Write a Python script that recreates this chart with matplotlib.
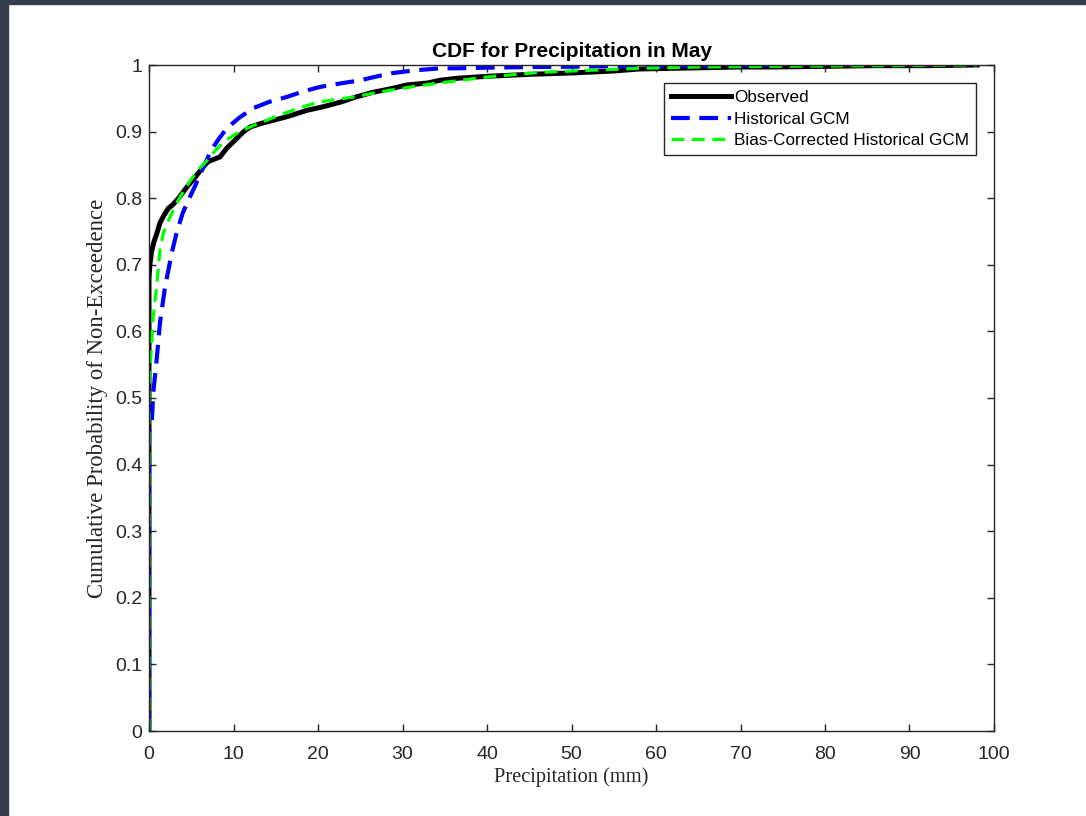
import numpy as np
import matplotlib.pyplot as plt
from matplotlib.patches import Rectangle

# values (precipitation mm, cumulative probability)
obs_x = [0, 0, 0.1, 0.3, 0.6, 1.0, 1.3, 1.8, 2.3, 2.8, 3.5, 4.5, 5.5, 6.4, 7.0,
         7.6, 8.4, 9.2, 10.4, 11.2, 12.0, 13.2, 14.7, 16.5, 18.7, 20.5, 22.6,
         24.5, 26.5, 28.5, 30.5, 33.0, 34.4, 36.4, 40, 45, 50, 55, 58, 62, 66,
         70, 74, 80, 86, 92, 98]
obs_y = [0, 0.68, 0.70, 0.72, 0.735, 0.75, 0.763, 0.775, 0.785, 0.79, 0.80,
         0.817, 0.832, 0.847, 0.855, 0.858, 0.862, 0.875, 0.89, 0.90, 0.907,
         0.912, 0.917, 0.923, 0.932, 0.937, 0.944, 0.952, 0.959, 0.964, 0.97,
         0.973, 0.977, 0.98, 0.983, 0.986, 0.988, 0.991, 0.994, 0.995, 0.996,
         0.997, 0.997, 0.998, 0.999, 0.999, 1.0]

gcm_x = [0, 0, 0.3, 0.5, 0.9, 1.3, 1.9, 2.7, 3.3, 4.0, 4.7, 5.4, 6.2, 7.0, 7.2,
         8.2, 9.2, 10.7, 12.3, 14.3, 16.3, 18.2, 20.2, 22.5, 25.0, 27.0, 28.9,
         31.5, 34.4, 36.4, 40, 46, 55, 65, 75]
gcm_y = [0, 0.45, 0.457, 0.507, 0.557, 0.613, 0.667, 0.718, 0.75, 0.778, 0.798,
         0.817, 0.84, 0.862, 0.869, 0.888, 0.905, 0.921, 0.935, 0.945, 0.952,
         0.96, 0.967, 0.972, 0.977, 0.983, 0.988, 0.992, 0.995, 0.995, 0.996,
         0.997, 0.998, 0.999, 1.0]

bc_x = [0, 0, 0.1, 0.3, 0.5, 0.7, 0.9, 1.3, 1.7, 2.5, 3.3, 4.2, 5.2, 6.0, 6.9,
        7.8, 8.8, 10.2, 11.6, 13.5, 15.5, 17.7, 19.9, 22.0, 24.2, 26.3, 28.5,
        31.5, 34.4, 40, 46.3, 52, 58, 65, 74, 85, 98]
bc_y = [0, 0.50, 0.537, 0.58, 0.622, 0.645, 0.667, 0.722, 0.748, 0.772, 0.793,
        0.813, 0.832, 0.845, 0.857, 0.871, 0.884, 0.896, 0.905, 0.915, 0.925,
        0.935, 0.944, 0.948, 0.952, 0.957, 0.962, 0.968, 0.973, 0.982, 0.989,
        0.992, 0.995, 0.997, 0.998, 0.999, 1.0]

xticks = np.arange(0, 101, 10)
yticks = np.arange(0, 1.01, 0.1)
ytick_labels = ['0', '0.1', '0.2', '0.3', '0.4', '0.5', '0.6', '0.7', '0.8', '0.9', '1']

plt.rcParams['font.family'] = 'Liberation Sans'
axcol = '#262626'

fig = plt.figure(figsize=(10.86, 8.16), dpi=100)
# dark screenshot frame on the left and top
fig.patches.append(Rectangle((0, 0), 8/1086, 1, transform=fig.transFigure,
                             color='#333e4f', zorder=-1))
fig.patches.append(Rectangle((0, 1 - 4/816), 1, 4/816, transform=fig.transFigure,
                             color='#333e4f', zorder=-1))

ax = fig.add_axes([149/1086, 1 - 731/816, 845/1086, 666/816])

ax.plot(obs_x, obs_y, '-', color='black', lw=3.6, label='Observed')
ax.plot(gcm_x, gcm_y, '--', color='blue', lw=3.0, dashes=(4.5, 2.3),
        label='Historical GCM')
ax.plot(bc_x, bc_y, '--', color='#00ff00', lw=2.3, dashes=(4.0, 2.4),
        label='Bias-Corrected Historical GCM')

ax.set_xlim(0, 100)
ax.set_ylim(0, 1)
ax.set_xticks(xticks)
ax.set_yticks(yticks)
ax.set_yticklabels(ytick_labels)
ax.tick_params(direction='in', length=5, width=1, colors=axcol,
               top=True, right=True, labelsize=14)
ax.tick_params(axis='x', pad=11)
ax.tick_params(axis='y', pad=5)
for s in ax.spines.values():
    s.set_color(axcol)
    s.set_linewidth(1)

ax.set_title('CDF for Precipitation in May', fontsize=15, fontweight='bold',
             color='black', pad=6)
ax.set_xlabel('Precipitation (mm)', family='Liberation Serif', fontsize=14.7,
              color=axcol, labelpad=3)
ax.set_ylabel('Cumulative Probability of Non-Exceedence', family='Liberation Serif',
              fontsize=16.4, color=axcol, labelpad=5)

leg = ax.legend(loc='upper right', bbox_to_anchor=(1 - 18/845, 1 - 18/666),
                borderaxespad=0, fontsize=12.3, handlelength=3.5, handletextpad=0.15,
                labelspacing=0.38, borderpad=0.42, fancybox=False, framealpha=1)
leg.get_frame().set_edgecolor(axcol)
leg.get_frame().set_linewidth(1)

fig.savefig('out.png', dpi=100, facecolor='white')
